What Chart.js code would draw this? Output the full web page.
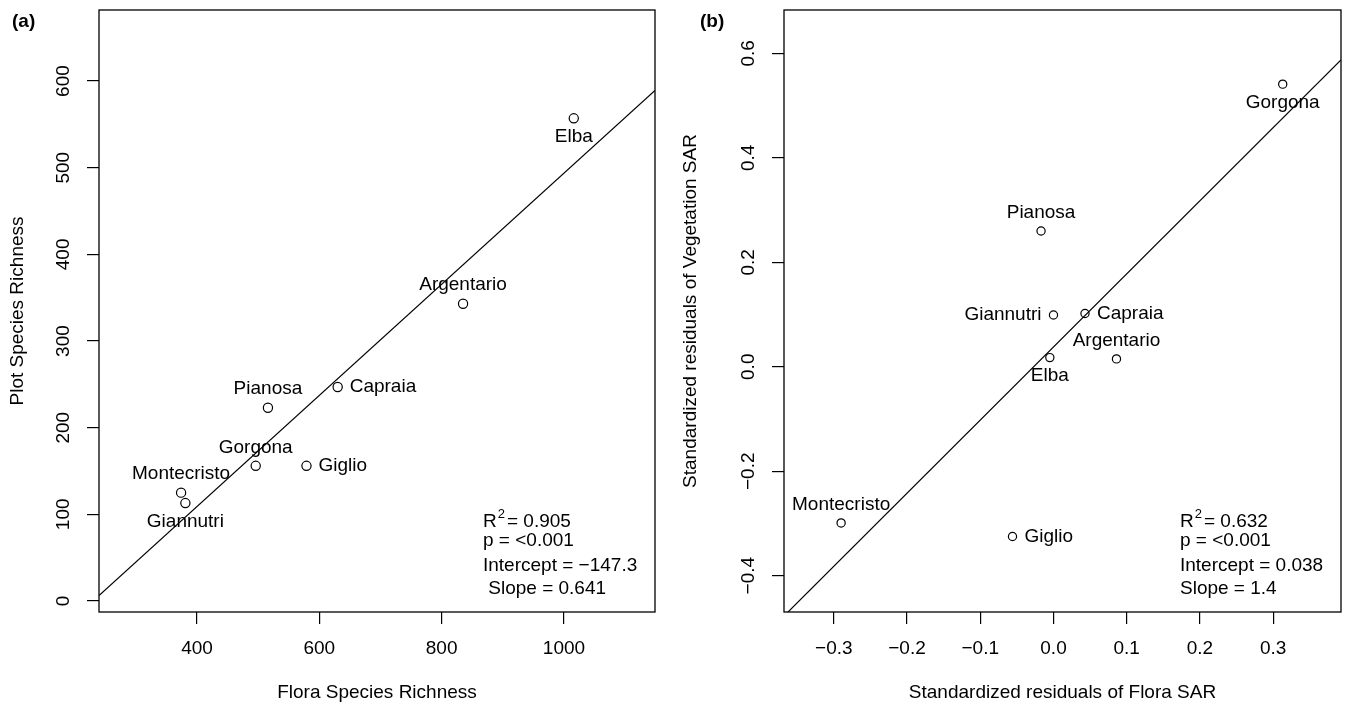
<!DOCTYPE html>
<html>
<head>
<meta charset="utf-8">
<script src="https://cdn.jsdelivr.net/npm/chart.js@4.4.1/dist/chart.umd.min.js"></script>
<style>
    body { margin: 0; background: #fff; }
    #wrap { position: relative; width: 1347px; height: 706px; }
    canvas { position: absolute; top: 0; }
</style>
</head>
<body>
<div id="wrap">
    <canvas id="chartA" width="673" height="706" style="left:0"></canvas>
    <canvas id="chartB" width="674" height="706" style="left:673px"></canvas>
</div>
<script>
// Ilhas (mesma ordem nos dois painéis)
const islands = ['Elba', 'Argentario', 'Capraia', 'Pianosa', 'Gorgona', 'Giglio', 'Montecristo', 'Giannutri'];

// Painel (a): riqueza de espécies
const floraRichness = [1016, 835, 630, 516, 496, 579, 374, 381];
const plotRichness = [557, 343, 247, 223, 156, 156, 125, 113];
const xTicksA = [400, 600, 800, 1000];
const yTicksA = [0, 100, 200, 300, 400, 500, 600];
const xRangeA = [239.8, 1148.8];
const yRangeA = [-12.7, 682];
const interceptA = -147.3;
const slopeA = 0.641;
const statsA = ['0.905', '<0.001', '\u2212147.3', '0.641'];

// Painel (b): resíduos padronizados
const floraResid = [-0.005, 0.086, 0.043, -0.017, 0.313, -0.056, -0.290, 0.000];
const vegResid = [0.0175, 0.015, 0.102, 0.260, 0.541, -0.325, -0.299, 0.099];
const xTicksB = [-0.3, -0.2, -0.1, 0.0, 0.1, 0.2, 0.3];
const yTicksB = [-0.4, -0.2, 0.0, 0.2, 0.4, 0.6];
const xRangeB = [-0.368, 0.3926];
const yRangeB = [-0.4695, 0.683];
const interceptB = 0.038;
const slopeB = 1.4;
const statsB = ['0.632', '<0.001', '0.038', '1.4'];

// Lado do rótulo de cada ilha
const ladoA = ['below', 'above', 'right', 'above', 'above', 'right', 'above', 'below'];
const ladoB = ['below', 'above', 'right', 'above', 'below', 'right', 'above', 'left'];

const FONTE = "'Liberation Sans', Arial, Helvetica, sans-serif";
const COR = '#000';

function fmtA(v) { return String(v); }
function fmtB(v) {
    if (Math.abs(v) < 1e-9) return '0.0';
    return v.toFixed(1).replace('-', '\u2212');
}

// Plugin que desenha a moldura, rótulos e texto estatístico (estilo R)
function molduraPlugin(cfg) {
    return {
        id: 'moldura',
        afterDraw(chart) {
            const ctx = chart.ctx;
            const area = chart.chartArea;
            const yScale = chart.scales.y;
            ctx.save();
            ctx.fillStyle = COR;
            ctx.strokeStyle = COR;

            // caixa
            ctx.lineWidth = 1.3;
            ctx.strokeRect(area.left, area.top, area.right - area.left, area.bottom - area.top);

            // letra do painel
            ctx.font = 'bold 19px ' + FONTE;
            ctx.textAlign = 'left';
            ctx.textBaseline = 'middle';
            ctx.fillText(cfg.letra, cfg.letraX, 22);

            // ticks do eixo y, girados como no R
            ctx.font = '19px ' + FONTE;
            yScale.ticks.forEach(t => {
                const py = yScale.getPixelForValue(t.value);
                ctx.save();
                ctx.translate(area.left - 35, py);
                ctx.rotate(-Math.PI / 2);
                ctx.textAlign = 'center';
                ctx.textBaseline = 'middle';
                ctx.fillText(cfg.fmt(t.value), 0, 0);
                ctx.restore();
            });

            // rótulos das ilhas
            const meta = chart.getDatasetMeta(1);
            meta.data.forEach((pt, i) => {
                const lado = cfg.lados[i];
                let x = pt.x, y = pt.y;
                if (lado === 'above') { ctx.textAlign = 'center'; y -= 18.5; }
                else if (lado === 'below') { ctx.textAlign = 'center'; y += 18.5; }
                else if (lado === 'right') { ctx.textAlign = 'left'; x += 12; }
                else { ctx.textAlign = 'right'; x -= 12; }
                ctx.textBaseline = 'middle';
                ctx.fillText(islands[i], x, y);
            });

            // texto estatístico
            const sx = area.left + cfg.statsX;
            const b = area.bottom;
            ctx.textAlign = 'left';
            ctx.textBaseline = 'alphabetic';
            ctx.fillText('R', sx, b - 85);
            const wR = ctx.measureText('R').width;
            ctx.font = '13px ' + FONTE;
            ctx.fillText('2', sx + wR + 1, b - 94);
            const w2 = ctx.measureText('2').width;
            ctx.font = '19px ' + FONTE;
            ctx.fillText('= ' + cfg.stats[0], sx + wR + w2 + 3, b - 85);
            ctx.fillText('p = ' + cfg.stats[1], sx, b - 66);
            ctx.fillText('Intercept = ' + cfg.stats[2], sx, b - 41);
            ctx.fillText(cfg.slopeIndent + 'Slope = ' + cfg.stats[3], sx, b - 18);
            ctx.restore();
        }
    };
}

function criarPainel(id, cfg) {
    const linha = cfg.xRange.map(x => ({ x: x, y: cfg.intercept + cfg.slope * x }));
    const pontos = cfg.xs.map((x, i) => ({ x: x, y: cfg.ys[i] }));

    const eixo = (ticks, range, fmt, titulo, tituloPad, showTicks) => ({
        type: 'linear',
        min: range[0],
        max: range[1],
        afterBuildTicks: s => { s.ticks = ticks.map(v => ({ value: v })); },
        border: { display: false },
        grid: {
            display: true,
            drawOnChartArea: false,
            drawTicks: true,
            tickLength: 12,
            color: COR,
            lineWidth: 1.2
        },
        ticks: {
            display: showTicks,
            color: COR,
            font: { family: FONTE, size: 19 },
            padding: 13,
            maxRotation: 0,
            autoSkip: false,
            callback: v => fmt(v)
        },
        title: {
            display: true,
            text: titulo,
            color: COR,
            font: { family: FONTE, size: 19 },
            padding: tituloPad
        }
    });

    const xAxis = eixo(cfg.xTicks, cfg.xRange, cfg.fmt, cfg.xTitle, { top: 0, bottom: 2 }, true);
    xAxis.afterFit = s => { s.height = 94; };
    const yAxis = eixo(cfg.yTicks, cfg.yRange, cfg.fmt, cfg.yTitle, { top: 6, bottom: 0 }, false);
    yAxis.afterFit = s => { s.width = cfg.yWidth; };

    return new Chart(document.getElementById(id), {
        type: 'scatter',
        data: {
            datasets: [
                {
                    type: 'line',
                    data: linha,
                    borderColor: COR,
                    borderWidth: 1.2,
                    pointRadius: 0,
                    fill: false
                },
                {
                    data: pontos,
                    pointStyle: 'circle',
                    pointRadius: cfg.raio,
                    borderWidth: 1.2,
                    borderColor: COR,
                    backgroundColor: 'rgba(0,0,0,0)'
                }
            ]
        },
        options: {
            responsive: false,
            animation: false,
            events: [],
            layout: { autoPadding: false, padding: { left: 0, top: 10, right: cfg.padRight, bottom: 0 } },
            plugins: { legend: { display: false }, tooltip: { enabled: false } },
            scales: { x: xAxis, y: yAxis }
        },
        plugins: [molduraPlugin(cfg)]
    });
}

window.onload = function () {
    criarPainel('chartA', {
        xs: floraRichness, ys: plotRichness,
        xTicks: xTicksA, yTicks: yTicksA, xRange: xRangeA, yRange: yRangeA,
        intercept: interceptA, slope: slopeA, stats: statsA, lados: ladoA,
        fmt: fmtA, xTitle: 'Flora Species Richness', yTitle: 'Plot Species Richness',
        yWidth: 99, padRight: 18, letra: '(a)', letraX: 12, statsX: 384, slopeIndent: ' ', raio: 4.6
    });
    criarPainel('chartB', {
        xs: floraResid, ys: vegResid,
        xTicks: xTicksB, yTicks: yTicksB, xRange: xRangeB, yRange: yRangeB,
        intercept: interceptB, slope: slopeB, stats: statsB, lados: ladoB,
        fmt: fmtB, xTitle: 'Standardized residuals of Flora SAR', yTitle: 'Standardized residuals of Vegetation SAR',
        yWidth: 111, padRight: 6, letra: '(b)', letraX: 27, statsX: 396, slopeIndent: '', raio: 4.1
    });
};
</script>
</body>
</html>
